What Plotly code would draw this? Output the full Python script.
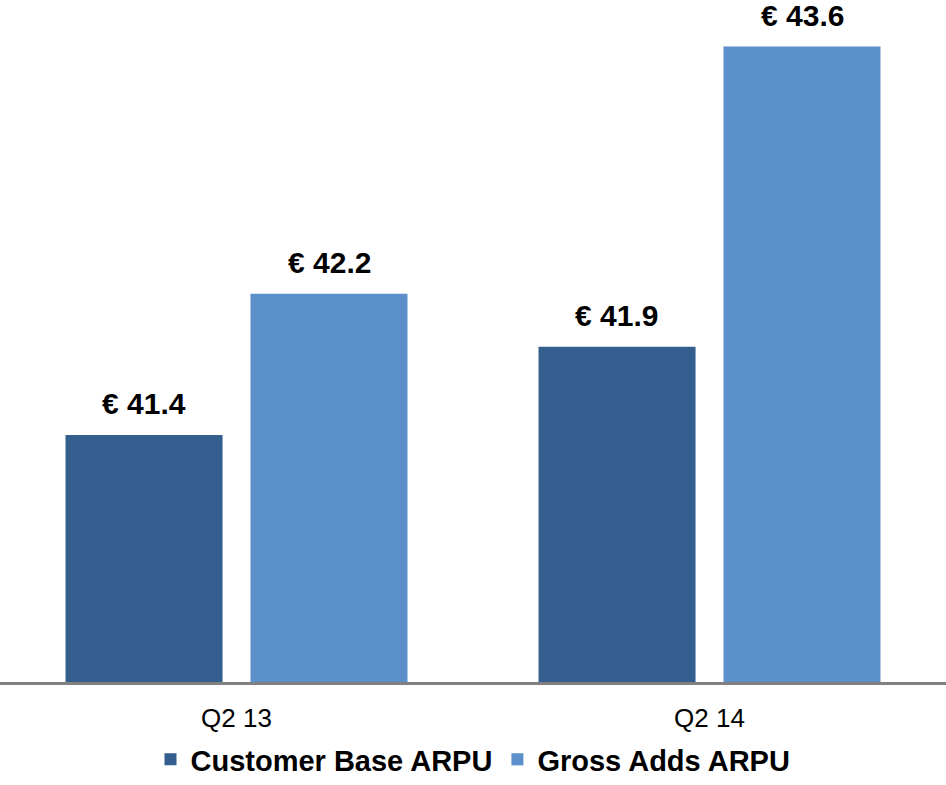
import plotly.graph_objects as go

# ARPU by quarter
quarters = ["Q2 13", "Q2 14"]
customer_base_arpu = [41.4, 41.9]
gross_adds_arpu = [42.2, 43.6]

series = [
    ("Customer Base ARPU", customer_base_arpu, "#335E8D"),
    ("Gross Adds ARPU", gross_adds_arpu, "#5B90CB"),
]

fig = go.Figure()
for name, values, color in series:
    fig.add_trace(go.Bar(
        x=quarters, y=values, name=name,
        marker=dict(color=color, line=dict(width=0)),
        offsetgroup=name,
    ))

# Value labels above each bar
annotations = []
for i, (name, values, color) in enumerate(series):
    for j, (q, v) in enumerate(zip(quarters, values)):
        annotations.append(dict(
            x=q, y=v, xref="x", yref="y",
            text=f"<b>€ {v:.1f}</b>", showarrow=False,
            xanchor="center", yanchor="bottom",
            xshift=(-93 if i == 0 else 93), yshift=13,
            font=dict(family="Arial, Liberation Sans", size=30, color="#000000"),
        ))

fig.update_layout(
    width=946, height=785,
    margin=dict(l=0, r=0, t=0, b=103),
    paper_bgcolor="white", plot_bgcolor="white",
    barmode="group", bargap=0.218, bargroupgap=0.151,
    showlegend=True,
    legend=dict(
        orientation="h", x=0.5, xanchor="center", xref="container",
        y=-6 / 785, yanchor="bottom", yref="container",
        font=dict(family="Arial, Liberation Sans", size=29, color="#000000", weight="bold"),
        traceorder="normal", itemwidth=30,
    ),
    annotations=annotations,
    xaxis=dict(
        showline=True, linecolor="#808080", linewidth=3,
        ticks="", showgrid=False, zeroline=False, ticklabelstandoff=11,
        tickfont=dict(family="Arial, Liberation Sans", size=26, color="#000000"),
    ),
    yaxis=dict(
        range=[40, 40 + 682 / 176.5], visible=False,
        showgrid=False, zeroline=False,
    ),
)

fig.write_html("out.html")
